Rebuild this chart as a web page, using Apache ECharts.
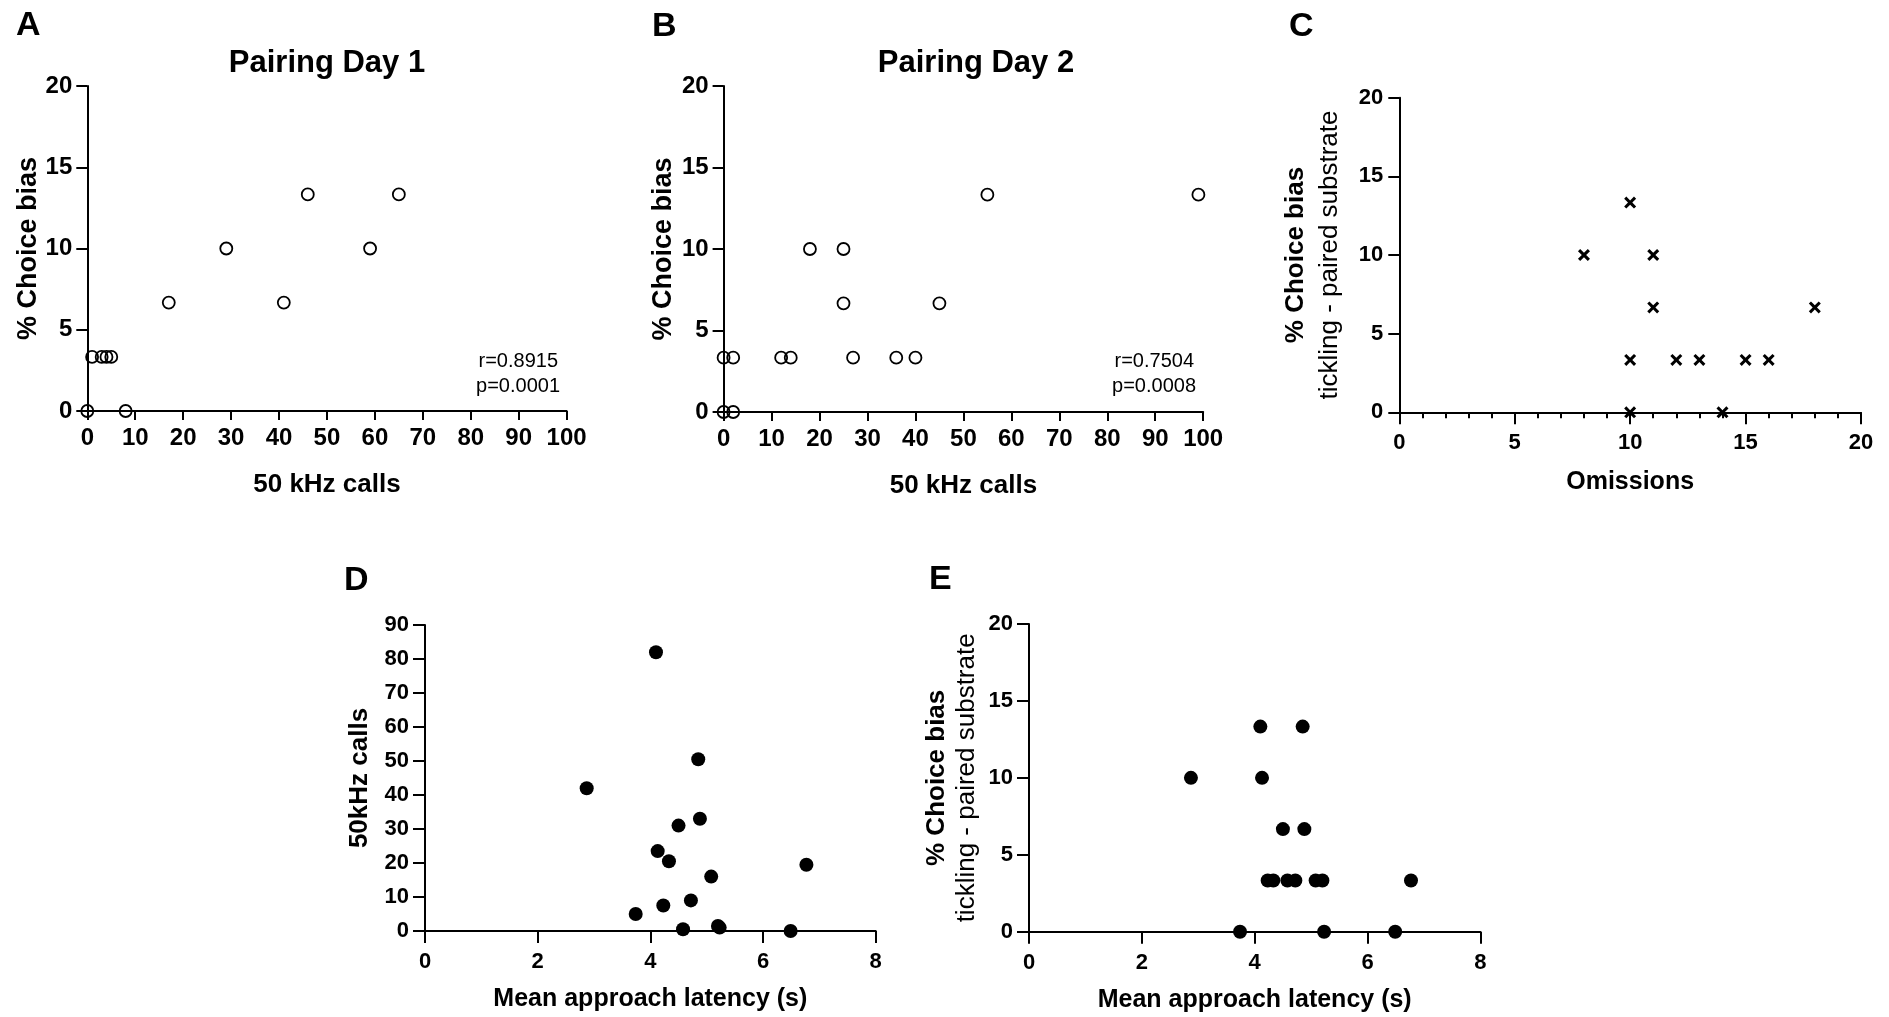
<!DOCTYPE html>
<html>
<head>
<meta charset="utf-8">
<script src="https://cdn.jsdelivr.net/npm/echarts@6/dist/echarts.min.js"></script>
<style>html,body{margin:0;padding:0;background:#fff}#c{width:1889px;height:1017px}</style>
</head>
<body>
<div id="c"></div>
<script>
// Panel A: Pairing Day 1
var pd1Calls = [0, 1, 3, 4, 5, 8, 17, 29, 41, 46, 59, 65];
var pd1Bias  = [0, 3.33, 3.33, 3.33, 3.33, 0, 6.67, 10, 6.67, 13.33, 10, 13.33];
// Panel B: Pairing Day 2
var pd2Calls = [0, 0, 2, 2, 12, 14, 18, 25, 25, 27, 36, 40, 45, 55, 99];
var pd2Bias  = [0, 3.33, 0, 3.33, 3.33, 3.33, 10, 10, 6.67, 3.33, 3.33, 3.33, 6.67, 13.33, 13.33];
// Panel C: Omissions
var omissions = [8, 10, 10, 10, 11, 11, 12, 13, 14, 15, 16, 18];
var omBias    = [10, 13.33, 3.33, 0, 10, 6.67, 3.33, 3.33, 0, 3.33, 3.33, 6.67];
// Panels D & E: mean approach latency
var latency = [4.10, 4.85, 2.87, 4.13, 4.50, 4.88, 4.23, 4.33, 4.58, 4.72, 5.08, 5.20, 6.77, 3.74, 5.23, 6.49];
var calls50 = [82, 50.5, 42, 23.5, 31, 33, 7.5, 20.5, 0.5, 9, 16, 1.5, 19.5, 5, 1, 0];
var latBias = [13.33, 13.33, 10, 10, 6.67, 6.67, 3.33, 3.33, 3.33, 3.33, 3.33, 3.33, 3.33, 0, 0, 0];
// Texts
var panelLetters = ['A', 'B', 'C', 'D', 'E'];
var titles = ['Pairing Day 1', 'Pairing Day 2'];
var statsA = ['r=0.8915', 'p=0.0001'];
var statsB = ['r=0.7504', 'p=0.0008'];

function zip(a, b) { return a.map(function (v, i) { return [v, b[i]]; }); }

var FF = '"Liberation Sans", Arial, sans-serif';
var BLK = '#000';

function axis(opt) {
  var a = {
    gridIndex: opt.g, type: 'value', min: opt.min, max: opt.max, interval: opt.interval,
    axisLine: { show: true, onZero: false, lineStyle: { color: BLK, width: 2 } },
    axisTick: { show: true, inside: false, length: opt.tick || 10, lineStyle: { color: BLK, width: 2 } },
    axisLabel: { show: true, color: BLK, fontSize: opt.fs || 22, fontWeight: 'bold', fontFamily: FF, margin: opt.margin },
    splitLine: { show: false },
    name: opt.name, nameLocation: 'middle', nameGap: opt.nameGap,
    nameTextStyle: opt.nameStyle || { color: BLK, fontSize: opt.nfs || 25, fontWeight: 'bold', fontFamily: FF }
  };
  if (opt.rotate) a.nameRotate = 90;
  if (opt.minor) {
    a.minorTick = { show: true, splitNumber: opt.minor, length: 6, lineStyle: { color: BLK, width: 2 } };
  }
  return a;
}

var yNameBold = { color: BLK, fontSize: 27, fontWeight: 'bold', fontFamily: FF };
var yNameBoldD = { color: BLK, fontSize: 26, fontWeight: 'bold', fontFamily: FF };
var twoLine = '{b|% Choice bias}\n{n|tickling - paired substrate}';
function twoLineStyle(lh) {
  return {
    color: BLK, fontFamily: FF, lineHeight: lh,
    rich: {
      b: { fontSize: 26, fontWeight: 'bold', color: BLK, fontFamily: FF, lineHeight: lh },
      n: { fontSize: 26, fontWeight: 'normal', color: BLK, fontFamily: FF, lineHeight: lh }
    }
  };
}

var crossPath = 'path://M0,1.8L1.8,0L5,3.2L8.2,0L10,1.8L6.8,5L10,8.2L8.2,10L5,6.8L1.8,10L0,8.2L3.2,5Z';

var option = {
  backgroundColor: '#fff',
  animation: false,
  grid: [
    { left: 87.3, top: 86, width: 479.3, height: 325, outerBoundsMode: 'none' },
    { left: 723.6, top: 86, width: 479.6, height: 326, outerBoundsMode: 'none' },
    { left: 1399.3, top: 97.7, width: 461.7, height: 314.6, outerBoundsMode: 'none' },
    { left: 425, top: 625, width: 450.7, height: 306, outerBoundsMode: 'none' },
    { left: 1029, top: 624, width: 451.4, height: 307.7, outerBoundsMode: 'none' }
  ],
  xAxis: [
    axis({ g: 0, min: 0, max: 100, interval: 10, name: '50 kHz calls', nameGap: 61, margin: 15, tick: 9, fs: 24, nfs: 26 }),
    axis({ g: 1, min: 0, max: 100, interval: 10, name: '50 kHz calls', nameGap: 61, margin: 15, tick: 9, fs: 24, nfs: 26 }),
    axis({ g: 2, min: 0, max: 20, interval: 5, name: 'Omissions', nameGap: 57, margin: 20, tick: 12, minor: 5 }),
    axis({ g: 3, min: 0, max: 8, interval: 2, name: 'Mean approach latency (s)', nameGap: 56, margin: 20, tick: 12 }),
    axis({ g: 4, min: 0, max: 8, interval: 2, name: 'Mean approach latency (s)', nameGap: 56, margin: 20, tick: 12 })
  ],
  yAxis: [
    axis({ g: 0, min: 0, max: 20, interval: 5, name: '% Choice bias', nameGap: 43, margin: 15, tick: 11, fs: 24, rotate: true, nameStyle: yNameBold }),
    axis({ g: 1, min: 0, max: 20, interval: 5, name: '% Choice bias', nameGap: 47, margin: 15, tick: 11, fs: 24, rotate: true, nameStyle: yNameBold }),
    axis({ g: 2, min: 0, max: 20, interval: 5, name: twoLine, nameGap: 52, margin: 16, tick: 11, rotate: true, nameStyle: twoLineStyle(34) }),
    axis({ g: 3, min: 0, max: 90, interval: 10, name: '50kHz calls', nameGap: 52, margin: 16, tick: 12, rotate: true, nameStyle: yNameBoldD }),
    axis({ g: 4, min: 0, max: 20, interval: 5, name: twoLine, nameGap: 47, margin: 16, tick: 12, rotate: true, nameStyle: twoLineStyle(30) })
  ],
  series: [
    { type: 'scatter', xAxisIndex: 0, yAxisIndex: 0, data: zip(pd1Calls, pd1Bias), symbol: 'circle', symbolSize: 12, clip: false,
      itemStyle: { color: 'rgba(0,0,0,0)', borderColor: BLK, borderWidth: 1.8, opacity: 1 } },
    { type: 'scatter', xAxisIndex: 1, yAxisIndex: 1, data: zip(pd2Calls, pd2Bias), symbol: 'circle', symbolSize: 12, clip: false,
      itemStyle: { color: 'rgba(0,0,0,0)', borderColor: BLK, borderWidth: 1.8, opacity: 1 } },
    { type: 'scatter', xAxisIndex: 2, yAxisIndex: 2, data: zip(omissions, omBias), symbol: crossPath, symbolSize: 12, clip: false,
      itemStyle: { color: BLK, opacity: 1 } },
    { type: 'scatter', xAxisIndex: 3, yAxisIndex: 3, data: zip(latency, calls50), symbol: 'circle', symbolSize: 14, clip: false,
      itemStyle: { color: BLK, opacity: 1 } },
    { type: 'scatter', xAxisIndex: 4, yAxisIndex: 4, data: zip(latency, latBias), symbol: 'circle', symbolSize: 14, clip: false,
      itemStyle: { color: BLK, opacity: 1 } }
  ],
  graphic: [
    { type: 'text', x: 16, y: 26, style: { text: panelLetters[0], font: 'bold 34px ' + FF, fill: BLK, align: 'left', verticalAlign: 'middle' } },
    { type: 'text', x: 652, y: 27, style: { text: panelLetters[1], font: 'bold 34px ' + FF, fill: BLK, align: 'left', verticalAlign: 'middle' } },
    { type: 'text', x: 1289, y: 27, style: { text: panelLetters[2], font: 'bold 34px ' + FF, fill: BLK, align: 'left', verticalAlign: 'middle' } },
    { type: 'text', x: 344, y: 581, style: { text: panelLetters[3], font: 'bold 34px ' + FF, fill: BLK, align: 'left', verticalAlign: 'middle' } },
    { type: 'text', x: 929, y: 580, style: { text: panelLetters[4], font: 'bold 34px ' + FF, fill: BLK, align: 'left', verticalAlign: 'middle' } },
    { type: 'text', x: 327, y: 63, style: { text: titles[0], font: 'bold 31px ' + FF, fill: BLK, align: 'center', verticalAlign: 'middle' } },
    { type: 'text', x: 976, y: 63, style: { text: titles[1], font: 'bold 31px ' + FF, fill: BLK, align: 'center', verticalAlign: 'middle' } },
    { type: 'text', x: 558, y: 361, style: { text: statsA[0], font: '20px ' + FF, fill: BLK, align: 'right', verticalAlign: 'middle' } },
    { type: 'text', x: 560, y: 386, style: { text: statsA[1], font: '20px ' + FF, fill: BLK, align: 'right', verticalAlign: 'middle' } },
    { type: 'text', x: 1194, y: 361, style: { text: statsB[0], font: '20px ' + FF, fill: BLK, align: 'right', verticalAlign: 'middle' } },
    { type: 'text', x: 1196, y: 386, style: { text: statsB[1], font: '20px ' + FF, fill: BLK, align: 'right', verticalAlign: 'middle' } }
  ]
};

var chart = echarts.init(document.getElementById('c'), null, { renderer: 'canvas' });
chart.setOption(option);
</script>
</body>
</html>
